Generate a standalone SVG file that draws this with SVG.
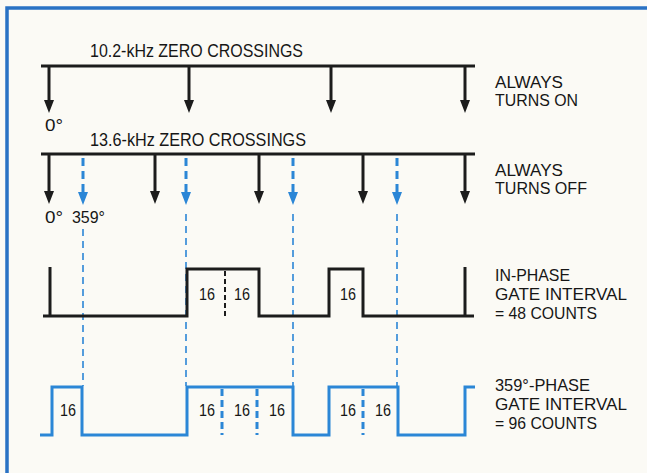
<svg xmlns="http://www.w3.org/2000/svg" width="647" height="473" viewBox="0 0 647 473">
<defs>
<style>
text{font-family:"Liberation Sans",Arial,sans-serif;fill:#161616}
.hdr{font-size:18.5px}
.deg{font-size:16px}
.lbl{font-size:16px}
.lbl2{font-size:16.5px}
.num{font-size:17px;text-anchor:middle}
.blk{stroke:#1c1c1c;stroke-width:3;fill:none}
.blu{stroke:#2b86d6;stroke-width:3;fill:none}
.bdash{stroke:#2b86d6;stroke-width:3;stroke-dasharray:8 5;fill:none}
.bthin{stroke:#2b86d6;stroke-width:1.6;stroke-dasharray:7 5;fill:none}
.kdash{stroke:#1c1c1c;stroke-width:2;stroke-dasharray:5 3;fill:none}
.vdiv{stroke:#2b86d6;stroke-width:3;stroke-dasharray:7 4;fill:none}
</style>
</defs>
<rect width="647" height="473" fill="#fbfaf5"/>
<g id="frame">
<path d="M7,473 V8 H647" stroke="#2a72c4" stroke-width="3.5" fill="none"/>
</g>
<g id="connectors">
<g id="row1">
<line class="blk" x1="41" y1="66" x2="475" y2="66"/>
<line class="blk" x1="49" y1="66" x2="49" y2="102"/>
<line class="blk" x1="189" y1="66" x2="189" y2="102"/>
<line class="blk" x1="331" y1="66" x2="331" y2="102"/>
<line class="blk" x1="465" y1="66" x2="465" y2="102"/>
<path fill="#1c1c1c" d="M44,100 H54 L49,113 z M184,100 H194 L189,113 z M326,100 H336 L331,113 z M460,100 H470 L465,113 z"/>
</g>
<g id="row2">
<line class="blk" x1="41" y1="154" x2="475" y2="154"/>
<line class="blk" x1="49" y1="154" x2="49" y2="193"/>
<line class="blk" x1="155" y1="154" x2="155" y2="193"/>
<line class="blk" x1="259" y1="154" x2="259" y2="193"/>
<line class="blk" x1="363" y1="154" x2="363" y2="193"/>
<line class="blk" x1="465" y1="154" x2="465" y2="193"/>
<path fill="#1c1c1c" d="M44,191 H54 L49,204 z M150,191 H160 L155,204 z M254,191 H264 L259,204 z M358,191 H368 L363,204 z M460,191 H470 L465,204 z"/>
<line class="bdash" x1="83" y1="158" x2="83" y2="192"/>
<line class="bdash" x1="186" y1="158" x2="186" y2="192"/>
<line class="bdash" x1="293" y1="158" x2="293" y2="192"/>
<line class="bdash" x1="397" y1="158" x2="397" y2="192"/>
<path fill="#2b86d6" d="M78,192 H88 L83,205 z M181,192 H191 L186,205 z M288,192 H298 L293,205 z M392,192 H402 L397,205 z"/>
<line class="bthin" x1="83" y1="229" x2="83" y2="386"/>
<line class="bthin" x1="186" y1="214" x2="186" y2="386"/>
<line class="bthin" x1="293" y1="214" x2="293" y2="386"/>
<line class="bthin" x1="397" y1="214" x2="397" y2="386"/>
</g>
</g>
<g id="inphase">
<path class="blk" d="M43,316 H187 V269 H259 V316 H329 V269 H363 V316 H474"/>
<path class="blk" d="M50,267 V316 M465,267 V316"/>
<line class="kdash" x1="225" y1="271" x2="225" y2="316"/>
<text class="num" x="207" y="300" textLength="16" lengthAdjust="spacingAndGlyphs">16</text>
<text class="num" x="242" y="300" textLength="16" lengthAdjust="spacingAndGlyphs">16</text>
<text class="num" x="348" y="300" textLength="16" lengthAdjust="spacingAndGlyphs">16</text>
</g>
<g id="phase359">
<path class="blu" d="M40,435 H52 V387 H82 V435 H187 V387 H293 V435 H329 V387 H398 V435 H465 V387 H475"/>
<line class="vdiv" x1="222" y1="389" x2="222" y2="435"/>
<line class="vdiv" x1="257" y1="389" x2="257" y2="435"/>
<line class="vdiv" x1="363" y1="389" x2="363" y2="435"/>
<text class="num" x="68" y="416" textLength="16" lengthAdjust="spacingAndGlyphs">16</text>
<text class="num" x="207" y="416" textLength="16" lengthAdjust="spacingAndGlyphs">16</text>
<text class="num" x="242" y="416" textLength="16" lengthAdjust="spacingAndGlyphs">16</text>
<text class="num" x="277" y="416" textLength="16" lengthAdjust="spacingAndGlyphs">16</text>
<text class="num" x="348" y="416" textLength="16" lengthAdjust="spacingAndGlyphs">16</text>
<text class="num" x="383" y="416" textLength="16" lengthAdjust="spacingAndGlyphs">16</text>
</g>
<g id="labels">
<text class="hdr" x="90" y="57" textLength="213" lengthAdjust="spacingAndGlyphs">10.2-kHz ZERO CROSSINGS</text>
<text class="hdr" x="90" y="146" textLength="216" lengthAdjust="spacingAndGlyphs">13.6-kHz ZERO CROSSINGS</text>
<text class="deg" x="45" y="131" textLength="18" lengthAdjust="spacingAndGlyphs">0°</text>
<text class="deg" x="45" y="223" textLength="18" lengthAdjust="spacingAndGlyphs">0°</text>
<text class="deg" x="72" y="223" textLength="33" lengthAdjust="spacingAndGlyphs">359°</text>
<text class="lbl" x="495" y="87.5" textLength="68" lengthAdjust="spacingAndGlyphs">ALWAYS</text>
<text class="lbl" x="495" y="106" textLength="83" lengthAdjust="spacingAndGlyphs">TURNS ON</text>
<text class="lbl" x="495" y="175.5" textLength="68" lengthAdjust="spacingAndGlyphs">ALWAYS</text>
<text class="lbl" x="495" y="194" textLength="92" lengthAdjust="spacingAndGlyphs">TURNS OFF</text>
<text class="lbl2" x="495" y="281" textLength="75" lengthAdjust="spacingAndGlyphs">IN-PHASE</text>
<text class="lbl2" x="495" y="300" textLength="132" lengthAdjust="spacingAndGlyphs">GATE INTERVAL</text>
<text class="lbl2" x="495" y="319" textLength="102" lengthAdjust="spacingAndGlyphs">= 48 COUNTS</text>
<text class="lbl2" x="495" y="391" textLength="95" lengthAdjust="spacingAndGlyphs">359°-PHASE</text>
<text class="lbl2" x="495" y="410" textLength="132" lengthAdjust="spacingAndGlyphs">GATE INTERVAL</text>
<text class="lbl2" x="495" y="429" textLength="102" lengthAdjust="spacingAndGlyphs">= 96 COUNTS</text>
</g>
</svg>
